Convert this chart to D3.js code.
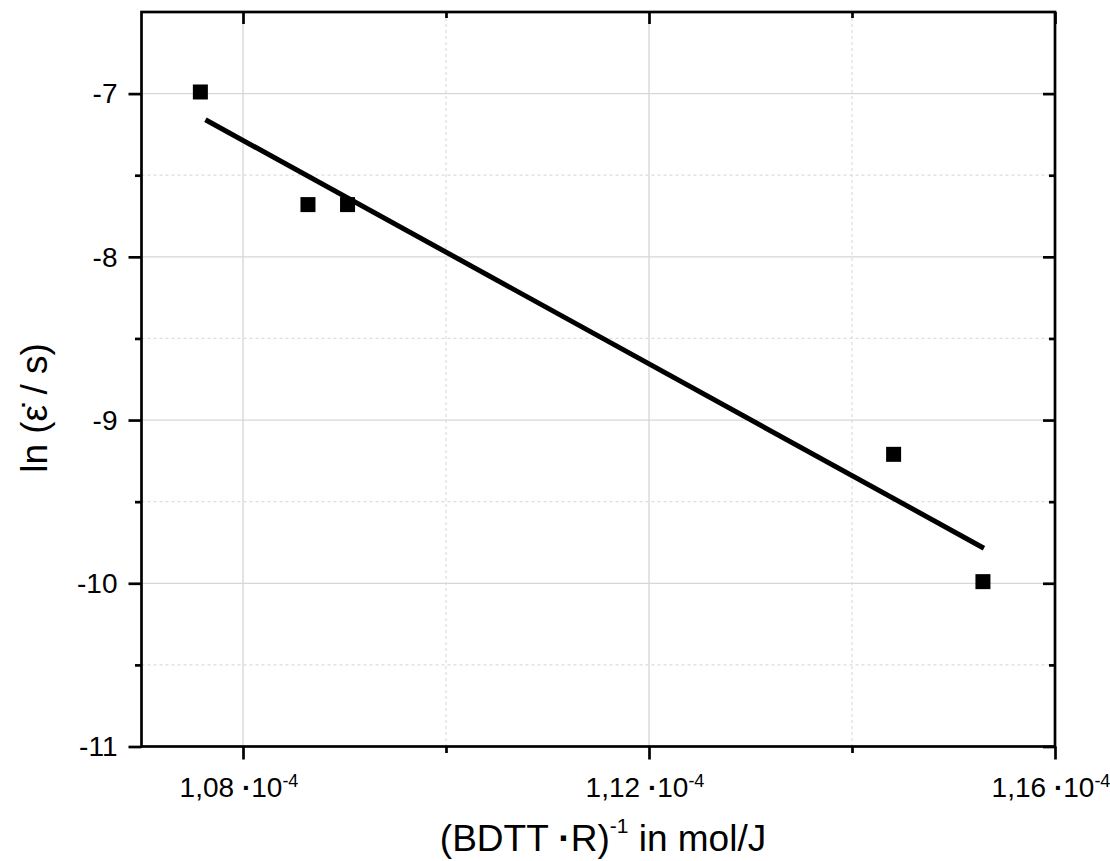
<!DOCTYPE html>
<html><head><meta charset="utf-8">
<script src="https://cdn.jsdelivr.net/npm/d3@7"></script>
<style>body{margin:0;background:#fff}</style></head>
<body><svg id="c" width="1110" height="861"></svg>
<script>
// ---- data ----
const xValues = [1.0758e-4, 1.0864e-4, 1.0903e-4, 1.1441e-4, 1.1529e-4];
const yValues = [-6.99, -7.68, -7.68, -9.21, -9.99];
const fitX = [1.0763e-4, 1.1530e-4];
const fitY = [-7.16, -9.785];
const xMajorTicks = [1.08e-4, 1.12e-4, 1.16e-4];
const xMinorTicks = [1.10e-4, 1.14e-4];
const xTickMantissa = ["1,08", "1,12", "1,16"];
const xTickExponent = "-4";
const yMajorTicks = [-7, -8, -9, -10, -11];
const yMinorTicks = [-7.5, -8.5, -9.5, -10.5];
const yTickLabels = ["-7", "-8", "-9", "-10", "-11"];
const xDomain = [1.07e-4, 1.16e-4];
const yDomain = [-11, -6.5];

// ---- layout ----
const L = 141.5, R = 1055, T = 12, B = 746.5;
const font = "'Liberation Sans', Arial, sans-serif";
const svg = d3.select("#c");
const x = d3.scaleLinear().domain(xDomain).range([L, R]);
const y = d3.scaleLinear().domain(yDomain).range([B, T]);

// grid
const g = svg.append("g");
g.selectAll(".vmaj").data(xMajorTicks.filter(v => v < xDomain[1])).enter().append("line")
  .attr("x1", d => x(d)).attr("x2", d => x(d)).attr("y1", T).attr("y2", B)
  .attr("stroke", "#d6d6d6").attr("stroke-width", 1.3);
g.selectAll(".vmin").data(xMinorTicks).enter().append("line")
  .attr("x1", d => x(d)).attr("x2", d => x(d)).attr("y1", T).attr("y2", B)
  .attr("stroke", "#dcdcdc").attr("stroke-width", 1.2).attr("stroke-dasharray", "3,3");
g.selectAll(".hmaj").data(yMajorTicks.filter(v => v > yDomain[0])).enter().append("line")
  .attr("y1", d => y(d)).attr("y2", d => y(d)).attr("x1", L).attr("x2", R)
  .attr("stroke", "#d6d6d6").attr("stroke-width", 1.3);
g.selectAll(".hmin").data(yMinorTicks).enter().append("line")
  .attr("y1", d => y(d)).attr("y2", d => y(d)).attr("x1", L).attr("x2", R)
  .attr("stroke", "#dcdcdc").attr("stroke-width", 1.2).attr("stroke-dasharray", "3,3");

// axes ticks
function styleAxis(sel) {
  sel.select(".domain").remove();
  sel.selectAll(".tick line").attr("stroke", "#000").attr("stroke-width", 2.7);
  sel.selectAll(".tick text").remove();
}
const bottomMaj = d3.axisBottom(x).tickValues(xMajorTicks).tickSize(13).tickFormat("");
const bottomMin = d3.axisBottom(x).tickValues(xMinorTicks).tickSize(6.5).tickFormat("");
const topMaj = d3.axisBottom(x).tickValues(xMajorTicks).tickSize(12).tickFormat("");
const topMin = d3.axisBottom(x).tickValues(xMinorTicks).tickSize(6).tickFormat("");
const leftMaj = d3.axisLeft(y).tickValues(yMajorTicks).tickSize(13).tickFormat("");
const leftMin = d3.axisLeft(y).tickValues(yMinorTicks).tickSize(6.5).tickFormat("");
const rightMaj = d3.axisLeft(y).tickValues(yMajorTicks).tickSize(12).tickFormat("");
const rightMin = d3.axisLeft(y).tickValues(yMinorTicks).tickSize(6).tickFormat("");
svg.append("g").attr("transform", `translate(0,${B})`).call(bottomMaj).call(styleAxis);
svg.append("g").attr("transform", `translate(0,${B})`).call(bottomMin).call(styleAxis);
svg.append("g").attr("transform", `translate(0,${T})`).call(topMaj).call(styleAxis);
svg.append("g").attr("transform", `translate(0,${T})`).call(topMin).call(styleAxis);
svg.append("g").attr("transform", `translate(${L},0)`).call(leftMaj).call(styleAxis);
svg.append("g").attr("transform", `translate(${L},0)`).call(leftMin).call(styleAxis);
svg.append("g").attr("transform", `translate(${R},0)`).call(rightMaj).call(styleAxis);
svg.append("g").attr("transform", `translate(${R},0)`).call(rightMin).call(styleAxis);

// frame
svg.append("rect").attr("x", L).attr("y", T).attr("width", R - L).attr("height", B - T)
  .attr("fill", "none").attr("stroke", "#000").attr("stroke-width", 2.7);

// y tick labels
svg.selectAll(".ylab").data(yMajorTicks).enter().append("text")
  .attr("x", L - 24).attr("y", d => y(d)).attr("dy", "0.35em")
  .attr("text-anchor", "end").attr("font-family", font).attr("font-size", 28)
  .attr("fill", "#000").text((d, i) => yTickLabels[i]);

// x tick labels
xMajorTicks.forEach((v, i) => {
  const t = svg.append("text").attr("x", x(v) - 4).attr("y", 797)
    .attr("text-anchor", "middle").attr("font-family", font).attr("font-size", 28).attr("fill", "#000");
  t.append("tspan").text(xTickMantissa[i] + " ");
  t.append("tspan").attr("font-weight", "bold").text("·");
  t.append("tspan").text("10");
  t.append("tspan").attr("font-size", 18).attr("dy", -10).text(xTickExponent);
});

// fit line
svg.append("path").datum(fitX.map((v, i) => [v, fitY[i]]))
  .attr("d", d3.line().x(d => x(d[0])).y(d => y(d[1])))
  .attr("stroke", "#000").attr("stroke-width", 5).attr("fill", "none");

// markers
const ms = 15;
svg.selectAll(".pt").data(xValues.map((v, i) => [v, yValues[i]])).enter().append("rect")
  .attr("x", d => x(d[0]) - ms / 2).attr("y", d => y(d[1]) - ms / 2)
  .attr("width", ms).attr("height", ms).attr("fill", "#000");

// x title
const xt = svg.append("text").attr("x", 603).attr("y", 851).attr("text-anchor", "middle")
  .attr("font-family", font).attr("font-size", 37).attr("fill", "#000");
xt.append("tspan").text("(BDTT ");
xt.append("tspan").attr("font-weight", "bold").text("·");
xt.append("tspan").text("R)");
xt.append("tspan").attr("font-size", 21).attr("dy", -18).text("-1");
xt.append("tspan").attr("dy", 18).text(" in mol/J");

// y title
svg.append("text").attr("transform", "translate(47,408) rotate(-90)")
  .attr("text-anchor", "middle").attr("font-family", font).attr("font-size", 37).attr("fill", "#000")
  .text("ln (ε\u0307 / s)");
</script></body></html>
